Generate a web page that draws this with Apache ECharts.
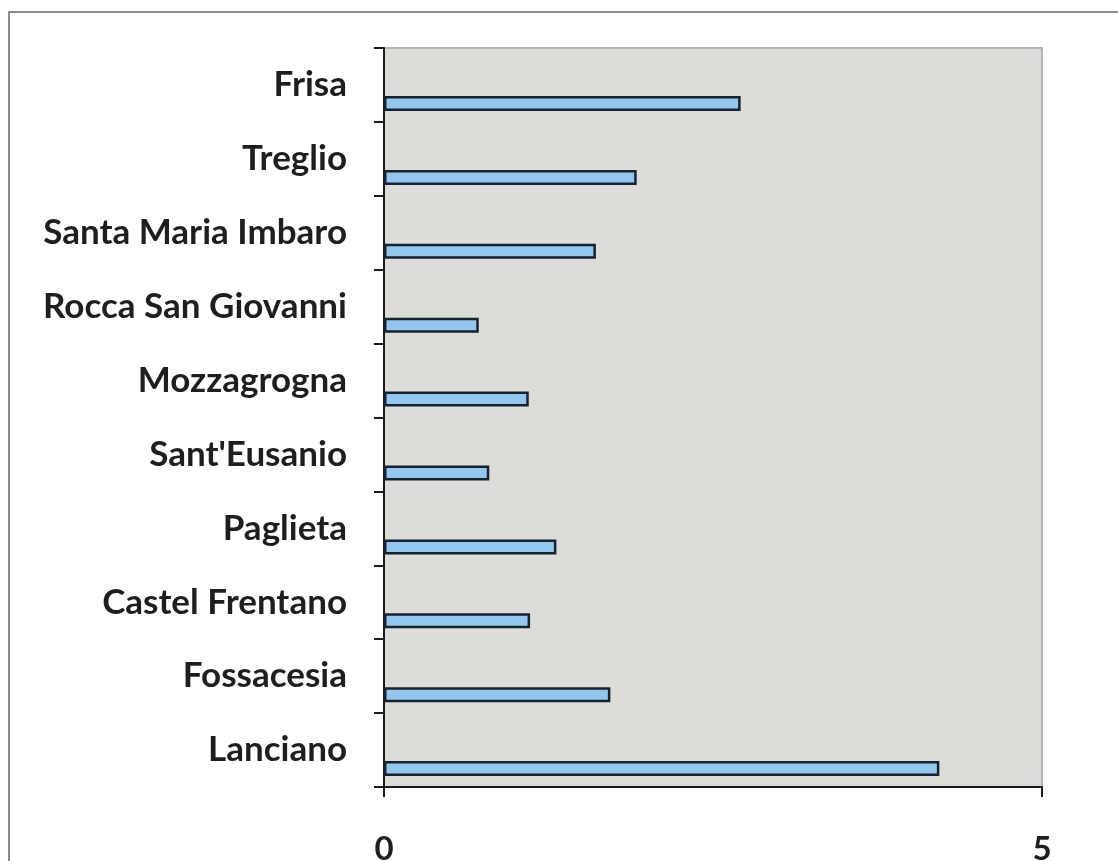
<!DOCTYPE html>
<html>
<head>
<meta charset="utf-8">
<script src="https://cdn.jsdelivr.net/npm/echarts@6/dist/echarts.min.js"></script>
<style>
  html, body { margin: 0; padding: 0; background: #ffffff; }
  #frame { position: absolute; left: 8px; top: 11px; width: 1200px; height: 900px;
           border-left: 2px solid #8a8a8a; border-top: 2px solid #8a8a8a; box-sizing: border-box; }
  #chart { position: absolute; left: 0; top: 0; width: 1118px; height: 861px; }
</style>
</head>
<body>
<div id="frame"></div>
<div id="chart"></div>
<script>
// Municipalities, listed top to bottom
const comuni = ['Frisa', 'Treglio', 'Santa Maria Imbaro', 'Rocca San Giovanni', 'Mozzagrogna',
  "Sant'Eusanio", 'Paglieta', 'Castel Frentano', 'Fossacesia', 'Lanciano'];
// Values per municipality
const valori = [2.71, 1.92, 1.61, 0.72, 1.10, 0.80, 1.31, 1.11, 1.72, 4.22];
// Empty companion series (keeps the bars off-centre in each band)
const vuoto = comuni.map(() => null);
const xTicks = [0, 5];

const chart = echarts.init(document.getElementById('chart'));
chart.setOption({
  animation: false,
  grid: {
    left: 384, top: 48, right: 76, bottom: 74,
    outerBoundsMode: 'none', containLabel: false,
    show: true, backgroundColor: '#dcdcd8', borderColor: '#b4b4b0', borderWidth: 2
  },
  xAxis: {
    type: 'value', min: xTicks[0], max: xTicks[1], interval: 5,
    axisLine: { show: true, lineStyle: { color: '#1a1a1a', width: 2 } },
    axisTick: { show: true, length: 10, lineStyle: { color: '#1a1a1a', width: 2 } },
    axisLabel: { margin: 46, color: '#1e1e1e', fontFamily: 'Lato', fontWeight: 'bold', fontSize: 33 },
    splitLine: { show: false }
  },
  yAxis: {
    type: 'category', data: comuni, inverse: true,
    axisLine: { show: true, lineStyle: { color: '#1a1a1a', width: 2 } },
    axisTick: { show: true, length: 10, lineStyle: { color: '#1a1a1a', width: 2 } },
    axisLabel: { margin: 37, color: '#1e1e1e', fontFamily: 'Lato', fontWeight: 'bold', fontSize: 35 },
    splitLine: { show: false }
  },
  series: [
    { type: 'bar', data: vuoto, barWidth: 15, barGap: '147%' },
    {
      type: 'bar', data: valori, barWidth: 15,
      itemStyle: { color: '#92c7f0', borderColor: '#17222e', borderWidth: 2.5 }
    }
  ]
});
</script>
</body>
</html>
